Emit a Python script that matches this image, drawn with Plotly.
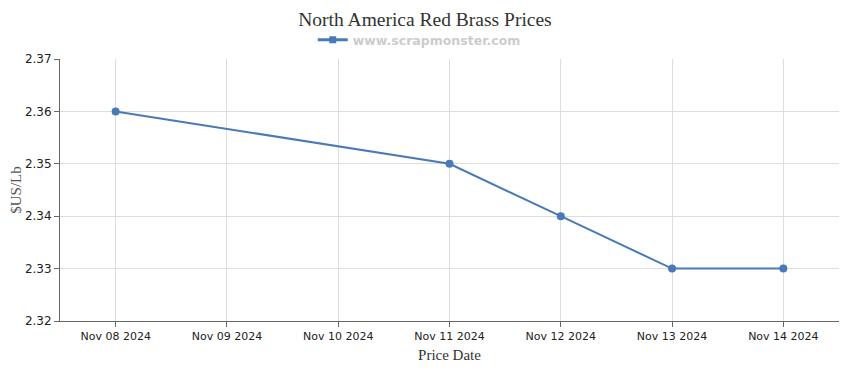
import plotly.graph_objects as go

categories = ["Nov 08 2024", "Nov 09 2024", "Nov 10 2024", "Nov 11 2024",
              "Nov 12 2024", "Nov 13 2024", "Nov 14 2024"]
dates = ["Nov 08 2024", "Nov 11 2024", "Nov 12 2024", "Nov 13 2024", "Nov 14 2024"]
prices = [2.36, 2.35, 2.34, 2.33, 2.33]
y_ticks = [2.32, 2.33, 2.34, 2.35, 2.36, 2.37]

W, H = 850, 370
color = "#4a7ab5"
fig = go.Figure()
fig.add_trace(go.Scatter(
    x=dates, y=prices, mode="lines+markers",
    line=dict(color=color, width=2), marker=dict(size=8, color=color),
    showlegend=False, name="www.scrapmonster.com"))
fig.add_trace(go.Scatter(
    x=[None], y=[None], mode="lines+markers",
    line=dict(color=color, width=3), marker=dict(size=7, color=color, symbol="square"),
    name="<b>www.scrapmonster.com</b>", showlegend=True))

fig.update_layout(
    width=W, height=H,
    margin=dict(l=52, r=19, t=51, b=57, autoexpand=False),
    paper_bgcolor="white", plot_bgcolor="white",
    title=dict(text="North America Red Brass Prices", x=(425 - 8) / W, xanchor="center",
               y=1 - 11 / H, yref="container", yanchor="middle",
               font=dict(family="Liberation Serif, Times New Roman, serif", size=19.5, color="#333333")),
    legend=dict(orientation="h", x=(425 - 8 - 25) / W, xanchor="center", y=1 - 32 / H, yref="container",
                yanchor="middle",
                font=dict(family="DejaVu Sans, Verdana, sans-serif", size=12.5, color="#cccccc"),
                bgcolor="rgba(0,0,0,0)", itemwidth=30),
    xaxis=dict(type="category", categoryorder="array", categoryarray=categories,
               range=[-0.5, len(categories) - 0.5], automargin=False,
               showgrid=True, gridcolor="#dddddd", gridwidth=1,
               showline=True, linecolor="#666666", linewidth=1,
               ticks="outside", ticklen=5, tickcolor="#666666",
               tickfont=dict(family="DejaVu Sans, Verdana, sans-serif", size=11, color="#222222"),
               title=dict(text="Price Date", standoff=7,
                          font=dict(family="Liberation Serif, Times New Roman, serif", size=15, color="#333333"))),
    yaxis=dict(range=[2.32, 2.37], tickvals=y_ticks, tickformat=".2f", automargin=False,
               showgrid=True, gridcolor="#dddddd", gridwidth=1,
               showline=True, linecolor="#666666", linewidth=1,
               ticks="outside", ticklen=5, tickcolor="#666666", zeroline=False,
               tickfont=dict(family="DejaVu Sans, Verdana, sans-serif", size=12, color="#222222"),
               title=dict(text="$US/Lb", standoff=6,
                          font=dict(family="Liberation Serif, Times New Roman, serif", size=15, color="#555555"))),
)
fig.write_html("out.html")
